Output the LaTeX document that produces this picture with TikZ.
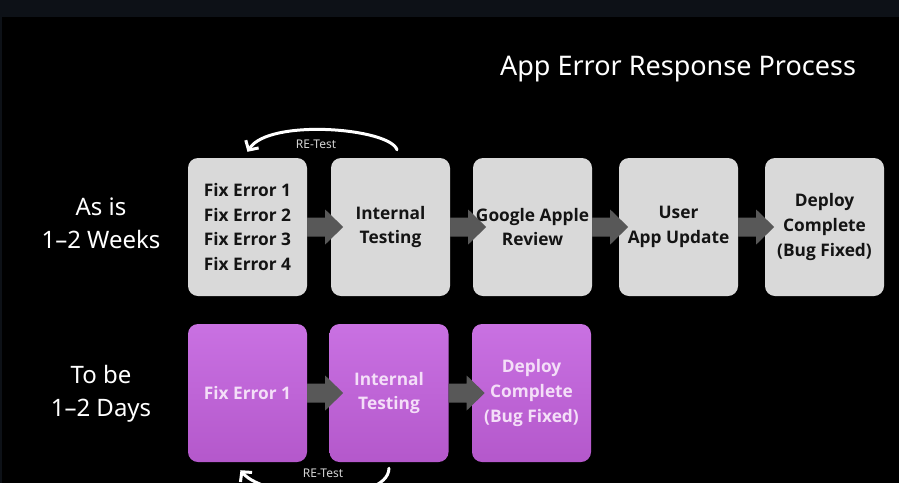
\documentclass[tikz,border=0pt]{standalone}
\usepackage{fontspec}
\setmainfont{Noto Sans}
\newfontfamily\boxfont{Open Sans}
\usetikzlibrary{calc,arrows.meta}
\definecolor{topband}{HTML}{0D1117}
\definecolor{boxgray}{HTML}{D9D9D9}
\definecolor{arrowfill}{HTML}{585858}
\definecolor{purptop}{HTML}{C971E2}
\definecolor{purpbot}{HTML}{B458CB}
\definecolor{purptext}{HTML}{F4DEF8}
\definecolor{retestgray}{HTML}{D4D4D4}
\tikzset{
  graybox/.style={fill=boxgray, rounded corners=10pt, minimum width=119pt, minimum height=138pt, inner sep=0pt},
  purpbox/.style={top color=purptop, bottom color=purpbot, rounded corners=10pt, minimum width=119pt, minimum height=138pt, inner sep=0pt},
  graytext/.style={text=black!92, font=\boxfont\bfseries\fontsize{17.3}{24.6}\selectfont, align=center, inner sep=0pt},
  purptxt/.style={text=purptext, font=\boxfont\bfseries\fontsize{17.3}{24.6}\selectfont, align=center, inner sep=0pt},
  rowlabel/.style={text=white, font=\fontsize{24}{33}\selectfont, align=center, inner sep=0pt},
  retest/.style={draw=white, line width=3pt, line cap=round, -{Straight Barb[length=7pt,width=15pt,line width=3pt]}},
  retestlabel/.style={text=retestgray, font=\fontsize{12}{14}\selectfont, inner sep=0pt},
}
\newcommand{\blockarr}[1]{%
  \fill[arrowfill] let \p1=(#1.east) in
    (\x1,\y1+9.5pt) -- (\x1+18pt,\y1+9.5pt) -- (\x1+18pt,\y1+17.5pt) -- (\x1+36pt,\y1)
    -- (\x1+18pt,\y1-17.5pt) -- (\x1+18pt,\y1-9.5pt) -- (\x1,\y1-9.5pt) -- cycle;}
\begin{document}
\begin{tikzpicture}[x=1pt,y=-1pt]
\useasboundingbox (0,0) rectangle (899,483);
\clip (0,0) rectangle (899,483);
\fill[black] (0,0) rectangle (899,483);
\fill[topband] (0,0) rectangle (899,17);
\fill[topband] (0,0) rectangle (2,483);

\node[text=white, font=\fontsize{27}{30}\selectfont, anchor=base, inner sep=0pt] (title) at (678,75) {App Error Response Process};

\node[rowlabel] (asis) at (101,223) {As is\\1–2 Weeks};
\node[rowlabel] (tobe) at (101,394) {To be\\1–2 Days};

% top row boxes
\node[graybox] (t1) at (247.5,227) {};
\node[graybox] (t2) at (390.5,227) {};
\node[graybox] (t3) at (532.5,227) {};
\node[graybox] (t4) at (678.5,227) {};
\node[graybox] (t5) at (824.5,227) {};
% bottom row boxes
\node[purpbox] (b1) at (247.5,393) {};
\node[purpbox] (b2) at (389,393) {};
\node[purpbox] (b3) at (531.5,393) {};

% block arrows
\blockarr{t1}
\blockarr{t2}
\blockarr{t3}
\blockarr{t4}
\blockarr{b1}
\blockarr{b2}

% box texts
\node[graytext] (t1txt) at (t1.center) {Fix Error 1\\Fix Error 2\\Fix Error 3\\Fix Error 4};
\node[graytext] (t2txt) at (t2.center) {Internal\\Testing};
\node[graytext] (t3txt) at (t3.center) {Google Apple\\Review};
\node[graytext] (t4txt) at (t4.center) {User\\App Update};
\node[graytext] (t5txt) at (t5.center) {Deploy\\Complete\\(Bug Fixed)};
\node[purptxt] (b1txt) at (b1.center) {Fix Error 1};
\node[purptxt] (b2txt) at (b2.center) {Internal\\Testing};
\node[purptxt] (b3txt) at (b3.center) {Deploy\\Complete\\(Bug Fixed)};

% re-test loops
\draw[retest] ([xshift=6.5pt,yshift=8pt]t2.north) .. controls (390,128) and (268,118) .. ([yshift=6pt]t1.north);
\node[retestlabel] (rt1) at (316,144) {RE-Test};
\draw[retest] ([yshift=-6pt]b2.south) .. controls (388,505) and (265,500) .. ([xshift=-7pt,yshift=-8pt]b1.south);
\node[retestlabel] (rt2) at (323,473) {RE-Test};
\end{tikzpicture}
\end{document}
